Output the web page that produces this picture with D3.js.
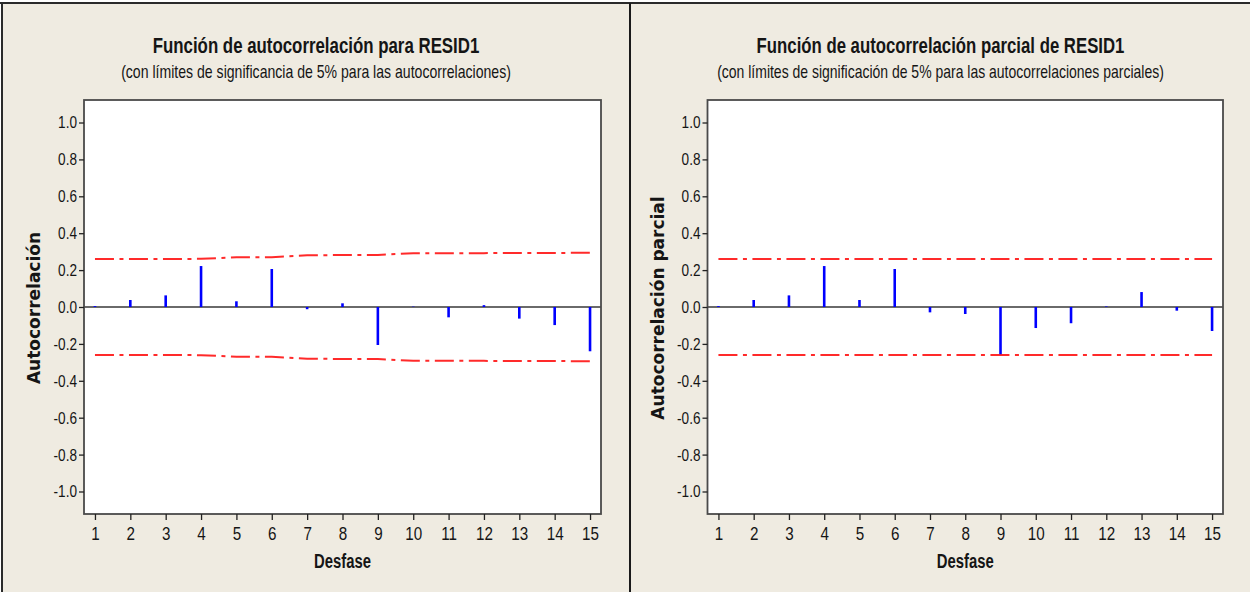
<!DOCTYPE html>
<html>
<head>
<meta charset="utf-8">
<script src="https://cdn.jsdelivr.net/npm/d3@7"></script>
<style>
  body { margin: 0; background: #ffffff; }
  svg { display: block; }
</style>
</head>
<body>
<svg id="chart" width="1250" height="592"></svg>
<script>
// Lags shown on the horizontal axis
const lags = [1, 2, 3, 4, 5, 6, 7, 8, 9, 10, 11, 12, 13, 14, 15];
const lagLabels = ["1", "2", "3", "4", "5", "6", "7", "8", "9", "10", "11", "12", "13", "14", "15"];

// Autocorrelations of RESID1 and their 5% significance limits
const acfValues = [0.005, 0.038, 0.063, 0.222, 0.031, 0.206, -0.012, 0.020, -0.206, 0.002, -0.056, 0.010, -0.063, -0.098, -0.240];
const acfLimits = [0.260, 0.260, 0.260, 0.261, 0.270, 0.270, 0.280, 0.282, 0.282, 0.292, 0.292, 0.292, 0.293, 0.293, 0.294];

// Partial autocorrelations of RESID1 and their 5% significance limits
const pacfValues = [0.005, 0.038, 0.063, 0.222, 0.038, 0.206, -0.029, -0.038, -0.256, -0.114, -0.088, 0.003, 0.081, -0.020, -0.130];
const pacfLimits = [0.260, 0.260, 0.260, 0.260, 0.260, 0.260, 0.260, 0.260, 0.260, 0.260, 0.260, 0.260, 0.260, 0.260, 0.260];

// Vertical axis ticks
const yTicks = [-1.0, -0.8, -0.6, -0.4, -0.2, 0.0, 0.2, 0.4, 0.6, 0.8, 1.0];

const SANS = "'Liberation Sans', Arial, sans-serif";
const WIDE = "'DejaVu Sans', Verdana, sans-serif";
const INK = "#151515";
const PANEL_BG = "#efebe1";
const SQUEEZE = 0.8;   // horizontal squeeze of the narrow lettering

const svg = d3.select("#chart");

// Draws a text at (x, y), squeezed horizontally to the given width
function fittedText(parent, x, y, width, str, style) {
  const t = parent.append("text")
    .attr("text-anchor", "middle")
    .attr("fill", INK)
    .style("font-family", style.family)
    .style("font-weight", style.weight || "normal")
    .style("font-size", style.size)
    .text(str);
  const w = t.node().getComputedTextLength();
  t.attr("transform", `translate(${x},${y}) scale(${width / w},1)`);
  return t;
}

const panels = [
  {
    x0: 3, x1: 629,
    plot: { left: 84, right: 601, top: 100, bottom: 514 },
    title: "Función de autocorrelación para RESID1",
    titleLen: 327,
    subtitle: "(con límites de significancia de 5% para las autocorrelaciones)",
    subtitleLen: 390,
    yTitle: "Autocorrelación",
    yTitleX: 40,
    values: acfValues,
    limits: acfLimits
  },
  {
    x0: 631, x1: 1250,
    plot: { left: 707.5, right: 1223, top: 100, bottom: 514 },
    title: "Función de autocorrelación parcial de RESID1",
    titleLen: 368,
    subtitle: "(con límites de significación de 5% para las autocorrelaciones parciales)",
    subtitleLen: 447,
    yTitle: "Autocorrelación parcial",
    yTitleX: 664,
    values: pacfValues,
    limits: pacfLimits
  }
];

panels.forEach(p => {
  const g = svg.append("g");
  const cx = (p.x0 + p.x1) / 2;

  g.append("rect")
    .attr("x", p.x0).attr("y", 3)
    .attr("width", p.x1 - p.x0).attr("height", 592 - 3)
    .attr("fill", PANEL_BG);

  const x = d3.scaleLinear().domain([0.69, 15.31]).range([p.plot.left, p.plot.right]);
  const y = d3.scaleLinear().domain([-1.122, 1.122]).range([p.plot.bottom, p.plot.top]);

  // plotting area
  g.append("rect")
    .attr("x", p.plot.left).attr("y", p.plot.top)
    .attr("width", p.plot.right - p.plot.left)
    .attr("height", p.plot.bottom - p.plot.top)
    .attr("fill", "#ffffff");

  // zero reference line
  g.append("line")
    .attr("x1", p.plot.left).attr("x2", p.plot.right)
    .attr("y1", y(0)).attr("y2", y(0))
    .attr("stroke", "#6a6a6a").attr("stroke-width", 1.8);

  // significance limits (upper and lower)
  const limitLine = sign => d3.line()
    .x((d, i) => x(lags[i]))
    .y(d => y(sign * d));
  [1, -1].forEach(sign => {
    g.append("path")
      .datum(p.limits)
      .attr("d", limitLine(sign))
      .attr("fill", "none")
      .attr("stroke", "#ff2a2a")
      .attr("stroke-width", 2)
      .attr("stroke-dasharray", "19,5.5,4,5.5");
  });

  // correlation stems
  g.selectAll("line.stem")
    .data(p.values)
    .join("line")
    .attr("class", "stem")
    .attr("x1", (d, i) => x(lags[i])).attr("x2", (d, i) => x(lags[i]))
    .attr("y1", y(0)).attr("y2", d => y(d))
    .attr("stroke", "#0000ff").attr("stroke-width", 2.6);

  // frame around plotting area
  g.append("rect")
    .attr("x", p.plot.left).attr("y", p.plot.top)
    .attr("width", p.plot.right - p.plot.left)
    .attr("height", p.plot.bottom - p.plot.top)
    .attr("fill", "none")
    .attr("stroke", "#4a4a4a").attr("stroke-width", 1.8);

  // vertical axis
  const yAxis = g.append("g")
    .attr("transform", `translate(${p.plot.left},0)`)
    .call(d3.axisLeft(y).tickValues(yTicks).tickFormat(d => d.toFixed(1)).tickSize(5).tickPadding(2));
  yAxis.select(".domain").remove();
  yAxis.selectAll(".tick line").attr("stroke", "#222").attr("stroke-width", 1.3);
  yAxis.selectAll(".tick text")
    .attr("fill", INK)
    .attr("x", -7 / SQUEEZE)
    .attr("transform", `scale(${SQUEEZE},1)`)
    .style("font-family", SANS)
    .style("font-size", "17px");

  // horizontal axis
  const xAxis = g.append("g")
    .attr("transform", `translate(0,${p.plot.bottom})`)
    .call(d3.axisBottom(x).tickValues(lags).tickFormat((d, i) => lagLabels[i]).tickSize(6).tickPadding(7));
  xAxis.select(".domain").remove();
  xAxis.selectAll(".tick line").attr("stroke", "#222").attr("stroke-width", 1.3);
  xAxis.selectAll(".tick text")
    .attr("fill", INK)
    .attr("transform", `scale(${SQUEEZE},1)`)
    .style("font-family", SANS)
    .style("font-size", "19px");

  // titles
  fittedText(g, cx, 53, p.titleLen, p.title, { family: SANS, weight: "bold", size: "22px" });
  fittedText(g, cx, 78, p.subtitleLen, p.subtitle, { family: SANS, size: "17.5px" });
  fittedText(g, (p.plot.left + p.plot.right) / 2, 567.5, 57, "Desfase", { family: SANS, weight: "bold", size: "20px" });

  g.append("text")
    .attr("transform", `translate(${p.yTitleX},${(p.plot.top + p.plot.bottom) / 2 + 1}) rotate(-90)`)
    .attr("text-anchor", "middle")
    .style("font-family", WIDE).style("font-weight", "bold").style("font-size", "17px")
    .attr("fill", INK)
    .text(p.yTitle);
});

// window frame lines
svg.append("line").attr("x1", 0).attr("x2", 1250).attr("y1", 3).attr("y2", 3)
  .attr("stroke", "#2a2a2a").attr("stroke-width", 2);
svg.append("line").attr("x1", 2).attr("x2", 2).attr("y1", 3).attr("y2", 592)
  .attr("stroke", "#2a2a2a").attr("stroke-width", 2);
svg.append("line").attr("x1", 630).attr("x2", 630).attr("y1", 3).attr("y2", 592)
  .attr("stroke", "#1a1a1a").attr("stroke-width", 2);
</script>
</body>
</html>
